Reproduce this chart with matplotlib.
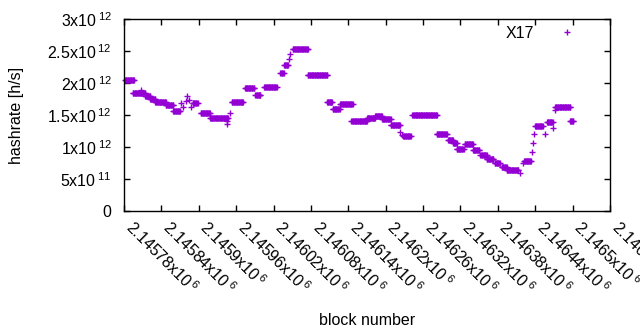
import numpy as np
import matplotlib
matplotlib.use("Agg")
from matplotlib import pyplot as plt

plt.rcParams['font.family'] = ['Liberation Sans', 'DejaVu Sans']
plt.rcParams['mathtext.fontset'] = 'custom'
plt.rcParams['mathtext.rm'] = 'Liberation Sans'
plt.rcParams['mathtext.it'] = 'Liberation Sans'
plt.rcParams['mathtext.default'] = 'regular'

# plateaus: hashrate (x10^12) constant over a block range
run_start = [2145782, 2145794, 2145814, 2145822, 2145830, 2145847, 2145859, 2145890,
             2145903, 2145918, 2145953, 2145974, 2145991, 2146005, 2146031, 2146037,
             2146051, 2146075, 2146106, 2146115, 2146127, 2146145, 2146170, 2146183,
             2146194, 2146208, 2146228, 2146243, 2146282, 2146300, 2146308, 2146314,
             2146327, 2146340, 2146352, 2146362, 2146375, 2146386, 2146394, 2146422,
             2146440, 2146459, 2146472, 2146496]
run_end = [2145796, 2145814, 2145822, 2145830, 2145847, 2145859, 2145870, 2145898,
           2145918, 2145947, 2145971, 2145989, 2145999, 2146025, 2146036, 2146043,
           2146075, 2146106, 2146114, 2146126, 2146147, 2146170, 2146183, 2146194,
           2146208, 2146223, 2146240, 2146282, 2146298, 2146308, 2146314, 2146325,
           2146340, 2146350, 2146362, 2146373, 2146383, 2146394, 2146413, 2146433,
           2146452, 2146468, 2146496, 2146501]
run_value = [2.04, 1.84, 1.80, 1.75, 1.70, 1.65, 1.56, 1.69,
             1.53, 1.46, 1.70, 1.92, 1.81, 1.94, 2.15, 2.28,
             2.53, 2.12, 1.70, 1.59, 1.67, 1.41, 1.45, 1.48,
             1.44, 1.34, 1.17, 1.50, 1.21, 1.11, 1.06, 0.97,
             1.05, 0.96, 0.87, 0.82, 0.75, 0.69, 0.64, 0.78,
             1.33, 1.39, 1.62, 1.40]

# isolated points between plateaus
single_block = [2145807, 2145872, 2145875, 2145879, 2145881, 2145884, 2145887,
                2145945, 2145946, 2145950, 2146045, 2146046, 2146223, 2146226,
                2146416, 2146420, 2146435, 2146437, 2146438, 2146455, 2146469, 2146471]
single_value = [1.89, 1.68, 1.63, 1.72, 1.79, 1.73, 1.63,
                1.41, 1.36, 1.53, 2.37, 2.46, 1.24, 1.19,
                0.60, 0.75, 0.92, 1.06, 1.21, 1.21, 1.29, 1.58]

x_ticks = [2145780 + 60 * i for i in range(14)]
y_ticks = [0, 0.5e12, 1e12, 1.5e12, 2e12, 2.5e12, 3e12]
y_labels = ['0', r'5x10$\,^{11}$', r'1x10$\,^{12}$', r'1.5x10$\,^{12}$',
            r'2x10$\,^{12}$', r'2.5x10$\,^{12}$', r'3x10$\,^{12}$']

blocks = []
rates = []
for s, e, v in zip(run_start, run_end, run_value):
    b = np.arange(s, e + 1)
    blocks.extend(b)
    rates.extend([v * 1e12] * len(b))
blocks.extend(single_block)
rates.extend([v * 1e12 for v in single_value])

fs = 11.5
fig = plt.figure(figsize=(6.4, 3.3), dpi=100)
ax = fig.add_axes([124 / 640, 1 - 211 / 330, 486 / 640, 192 / 330])

ax.plot(blocks, rates, '+', color='#9400d3', markersize=5, markeredgewidth=1.0,
        label='X17', clip_on=False)

ax.set_xlim(2145780, 2146560)
ax.set_ylim(0, 3e12)
ax.set_xticks(x_ticks)
ax.set_xticklabels([f"{t / 1e6:g}x10$\\,^{{6}}$" for t in x_ticks],
                   rotation=-45, ha='left', va='baseline', rotation_mode='anchor')
ax.set_yticks(y_ticks)
ax.set_yticklabels(y_labels)
ax.tick_params(direction='in', length=4, width=1, top=True, right=True,
               labelsize=fs, colors='black')
ax.tick_params(axis='x', pad=13)
ax.tick_params(axis='y', pad=9)
for sp in ax.spines.values():
    sp.set_linewidth(1)

ax.set_xlabel('block number', fontsize=fs)
ax.set_ylabel('hashrate [h/s]', fontsize=fs)
ax.xaxis.set_label_coords(0.5, -0.53)
ax.yaxis.set_label_coords(-0.205, 0.5)

ax.legend(loc='upper right', frameon=False, markerfirst=False, fontsize=fs,
          handlelength=2.5, borderpad=0, borderaxespad=0,
          bbox_to_anchor=(0.953, 0.965))

fig.savefig('out.png', dpi=100)
